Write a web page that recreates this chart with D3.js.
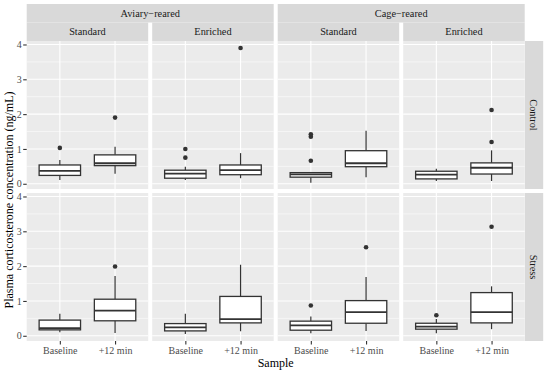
<!DOCTYPE html>
<head>
  <style>
    body { margin: 0; background: #fff; }
    svg { display: block; }
  </style>
</head>
<body>
<svg id="chart" width="550" height="373" font-family="Liberation Serif, Times New Roman, serif"></svg>
<script src="https://cdn.jsdelivr.net/npm/d3@7"></script>
<script>

// facet levels
var rearing = ["Aviary\u2212reared", "Cage\u2212reared"];
var housing = ["Standard", "Enriched"];
var treatment = ["Control", "Stress"];
var samples = ["Baseline", "+12 min"];
var yTicks = [0, 1, 2, 3, 4];

// box stats, order: treatment > rearing > housing > sample
var whiskerLow  = [0.11, 0.29, 0.11, 0.16, 0.03, 0.19, 0.08, 0.08,
                   0.10, 0.08, 0.05, 0.13, 0.07, 0.14, 0.07, 0.19];
var q1          = [0.24, 0.52, 0.16, 0.26, 0.19, 0.49, 0.14, 0.28,
                   0.17, 0.43, 0.14, 0.37, 0.16, 0.36, 0.19, 0.37];
var median      = [0.37, 0.59, 0.29, 0.39, 0.27, 0.59, 0.26, 0.46,
                   0.22, 0.72, 0.24, 0.48, 0.30, 0.68, 0.26, 0.68];
var q3          = [0.54, 0.83, 0.39, 0.54, 0.32, 0.95, 0.36, 0.60,
                   0.45, 1.05, 0.35, 1.13, 0.42, 1.01, 0.36, 1.24];
var whiskerHigh = [0.68, 1.06, 0.49, 0.88, 0.33, 1.52, 0.43, 0.96,
                   0.63, 1.72, 0.63, 2.04, 0.55, 1.69, 0.48, 1.42];
var outliers = [[1.03], [1.90], [0.75, 1.00], [3.90], [0.66, 1.35, 1.42], [], [], [1.20, 2.12],
                [], [1.99], [], [], [0.87], [2.54], [0.59], [3.13]];

var svg = d3.select("svg");
var serif = "Liberation Serif, Times New Roman, serif";

var padLeft = 26.7, panelW = 121.5, gap = 4;
var padTop = 41, panelH = 148;
var stripH = 18.5, rightStripW = 18.5;

function panelX(r, h) { return padLeft + (r * 2 + h) * (panelW + gap); }
function panelY(t) { return padTop + t * (panelH + gap); }

// discrete x with ggplot's 0.6 expansion
var x = d3.scaleLinear().domain([0.4, 2.6]).range([0, panelW]);
var y = d3.scaleLinear().domain([-0.15, 4.1]).range([panelH, 0]);
var boxW = x(1.75) - x(1);

var fontTick = 10, fontStrip = 10.3, fontTitle = 12;

// top strips
rearing.forEach(function(rName, r) {
  var x0 = panelX(r, 0), x1 = panelX(r, 1) + panelW;
  svg.append("rect").attr("x", x0).attr("y", 4).attr("width", x1 - x0).attr("height", stripH)
    .attr("fill", "#d9d9d9");
  svg.append("text").attr("x", (x0 + x1) / 2).attr("y", 4 + stripH / 2 + 3.5)
    .attr("text-anchor", "middle").attr("font-size", fontStrip).attr("fill", "#1a1a1a").text(rName);
  housing.forEach(function(hName, h) {
    var px = panelX(r, h);
    svg.append("rect").attr("x", px).attr("y", 4 + stripH).attr("width", panelW).attr("height", padTop - 4 - stripH)
      .attr("fill", "#d9d9d9");
    svg.append("text").attr("x", px + panelW / 2).attr("y", 4 + stripH + (padTop - 4 - stripH) / 2 + 3.5)
      .attr("text-anchor", "middle").attr("font-size", fontStrip).attr("fill", "#1a1a1a").text(hName);
  });
});

// right strips
var rsX = panelX(1, 1) + panelW;
treatment.forEach(function(tName, t) {
  var py = panelY(t);
  svg.append("rect").attr("x", rsX).attr("y", py).attr("width", rightStripW).attr("height", panelH)
    .attr("fill", "#d9d9d9");
  svg.append("text")
    .attr("transform", "translate(" + (rsX + rightStripW / 2 - 3.5) + "," + (py + panelH / 2) + ") rotate(90)")
    .attr("text-anchor", "middle").attr("font-size", fontStrip).attr("fill", "#1a1a1a").text(tName);
});

var minor = [0.5, 1.5, 2.5, 3.5];

var idx = 0;
treatment.forEach(function(tName, t) {
  rearing.forEach(function(rName, r) {
    housing.forEach(function(hName, h) {
      var g = svg.append("g").attr("transform", "translate(" + panelX(r, h) + "," + panelY(t) + ")");
      g.append("rect").attr("width", panelW).attr("height", panelH).attr("fill", "#ebebeb");
      g.selectAll(".minor").data(minor).enter().append("line")
        .attr("x1", 0).attr("x2", panelW)
        .attr("y1", function(d) { return y(d); }).attr("y2", function(d) { return y(d); })
        .attr("stroke", "#fff").attr("stroke-width", 0.55);
      g.selectAll(".majorY").data(yTicks).enter().append("line")
        .attr("x1", 0).attr("x2", panelW)
        .attr("y1", function(d) { return y(d); }).attr("y2", function(d) { return y(d); })
        .attr("stroke", "#fff").attr("stroke-width", 1.1);
      g.selectAll(".majorX").data([1, 2]).enter().append("line")
        .attr("y1", 0).attr("y2", panelH)
        .attr("x1", function(d) { return x(d); }).attr("x2", function(d) { return x(d); })
        .attr("stroke", "#fff").attr("stroke-width", 1.1);

      samples.forEach(function(s, si) {
        var i = idx + si;
        var cx = x(si + 1);
        var col = "#333333";
        g.append("line").attr("x1", cx).attr("x2", cx).attr("y1", y(q3[i])).attr("y2", y(whiskerHigh[i]))
          .attr("stroke", col).attr("stroke-width", 1.2);
        g.append("line").attr("x1", cx).attr("x2", cx).attr("y1", y(q1[i])).attr("y2", y(whiskerLow[i]))
          .attr("stroke", col).attr("stroke-width", 1.2);
        g.append("rect").attr("x", cx - boxW / 2).attr("width", boxW)
          .attr("y", y(q3[i])).attr("height", y(q1[i]) - y(q3[i]))
          .attr("fill", "#fff").attr("stroke", col).attr("stroke-width", 1.3);
        g.append("line").attr("x1", cx - boxW / 2).attr("x2", cx + boxW / 2)
          .attr("y1", y(median[i])).attr("y2", y(median[i]))
          .attr("stroke", col).attr("stroke-width", 1.8);
        g.selectAll(".out" + i).data(outliers[i]).enter().append("circle")
          .attr("cx", cx).attr("cy", function(d) { return y(d); }).attr("r", 2.3)
          .attr("fill", col);
      });
      idx += 2;
    });
  });

  // y axis for this row
  var ay = svg.append("g").attr("transform", "translate(" + padLeft + "," + panelY(t) + ")");
  ay.call(d3.axisLeft(y).tickValues(yTicks).tickSize(3.5).tickPadding(1.5).tickFormat(d3.format("d")));
  ay.attr("font-family", serif);
  ay.select(".domain").remove();
  ay.selectAll(".tick line").attr("stroke", "#333333").attr("stroke-width", 1.1);
  ay.selectAll(".tick text").attr("fill", "#4d4d4d").attr("font-size", fontTick).attr("font-family", serif);
});

// x axes
rearing.forEach(function(rName, r) {
  housing.forEach(function(hName, h) {
    var ax = svg.append("g").attr("transform", "translate(" + panelX(r, h) + "," + (panelY(1) + panelH) + ")");
    ax.call(d3.axisBottom(x).tickValues([1, 2]).tickSize(3.5).tickPadding(2)
      .tickFormat(function(d) { return samples[d - 1]; }));
    ax.attr("font-family", serif);
    ax.select(".domain").remove();
    ax.selectAll(".tick line").attr("stroke", "#333333").attr("stroke-width", 1.1);
    ax.selectAll(".tick text").attr("fill", "#4d4d4d").attr("font-size", fontTick).attr("font-family", serif);
  });
});

// titles
svg.append("text").attr("x", padLeft + (4 * panelW + 3 * gap) / 2).attr("y", 367)
  .attr("text-anchor", "middle").attr("font-size", fontTitle).attr("fill", "#000").text("Sample");
svg.append("text")
  .attr("transform", "translate(13,200) rotate(-90)")
  .attr("text-anchor", "middle").attr("font-size", fontTitle).attr("fill", "#000")
  .text("Plasma corticosterone concentration (ng/mL)");

</script>
</body>
